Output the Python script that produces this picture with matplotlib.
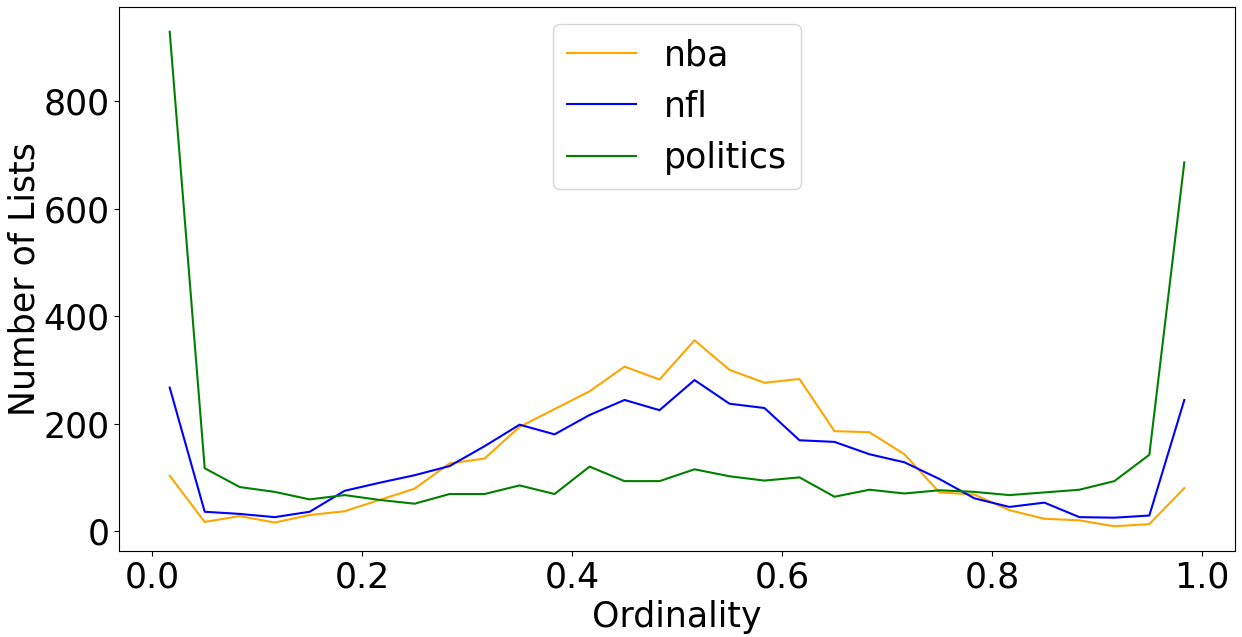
import numpy as np
import matplotlib
matplotlib.use("Agg")
import matplotlib.pyplot as plt

ordinality = [(i + 0.5) / 30 for i in range(30)]

nba = [103, 17, 28, 16, 30, 37, 58, 79, 126, 135, 194, 227, 260, 306, 282, 355,
       300, 276, 283, 186, 184, 143, 72, 68, 39, 23, 20, 9, 13, 80]
nfl = [267, 36, 32, 26, 36, 75, 90, 104, 121, 158, 198, 180, 216, 244, 225, 281,
       237, 229, 169, 166, 143, 128, 97, 61, 45, 53, 26, 25, 29, 244]
politics = [929, 117, 82, 73, 59, 67, 58, 51, 69, 69, 85, 69, 120, 93, 93, 115,
            102, 94, 100, 64, 77, 70, 76, 73, 67, 72, 77, 93, 142, 686]

series_names = ["nba", "nfl", "politics"]
series_colors = ["orange", "blue", "green"]

fs = 25

fig = plt.figure(figsize=(12.42, 6.37), dpi=100)
ax = fig.add_axes([0.0958, 0.135, 0.8986, 0.854])
for vals, name, col in zip([nba, nfl, politics], series_names, series_colors):
    ax.plot(ordinality, vals, color=col, label=name, linewidth=1.5)

ax.set_xlabel("Ordinality", fontsize=fs)
ax.set_ylabel("Number of Lists", fontsize=fs, labelpad=1)
ax.tick_params(labelsize=fs)
ax.set_yticks([0, 200, 400, 600, 800])
ax.legend(loc="upper center", fontsize=fs)

fig.savefig("out.png", dpi=100)
